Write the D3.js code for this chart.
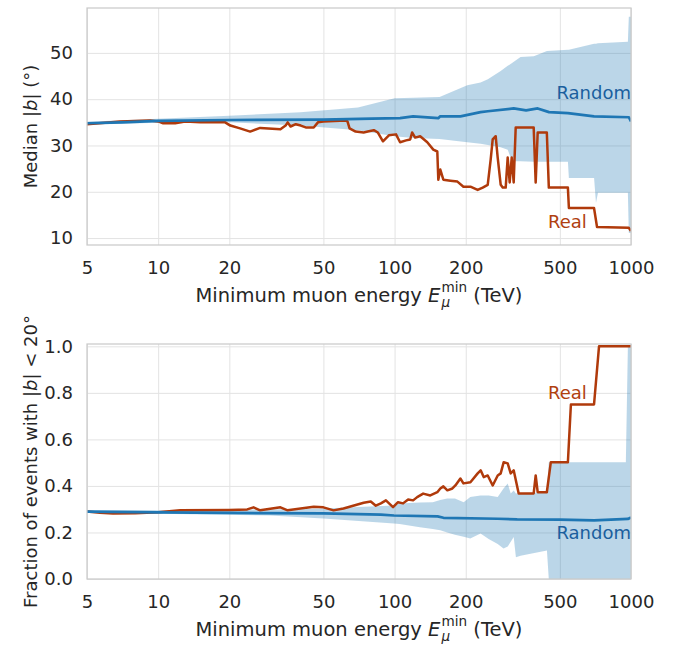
<!DOCTYPE html>
<html>
<head>
<meta charset="utf-8">
<script src="https://cdn.jsdelivr.net/npm/d3@7"></script>
<style>
  body { margin: 0; background: #fff; }
  text { font-family: "DejaVu Sans", sans-serif; }
</style>
</head>
<body>
<div id="root"></div>
<script>
// x axis: minimum muon energy (TeV)
var xTicks = [5, 10, 20, 50, 100, 200, 500, 1000];
var topYTicks = [10, 20, 30, 40, 50];
var botYTicks = [0, 0.2, 0.4, 0.6, 0.8, 1.0];

// top panel: median |b| in degrees, [E, value]
var realMedian = [
  [5, 34.6], [6.9, 35.2], [9.25, 35.4], [10, 35.2], [10.5, 34.8], [11.8, 34.8], [13, 35.2],
  [15.1, 35.0], [19.2, 35.0], [20.2, 34.3], [22.2, 33.7], [24.5, 33.0], [27, 33.8], [32.9, 33.5],
  [34.6, 34.3], [35.3, 35.0], [36.3, 34.1], [38.2, 34.6], [40.1, 34.3], [42.1, 33.9], [45.5, 33.9],
  [47.4, 35.0], [50, 35.2], [62, 35.4], [63.2, 35.2], [64.5, 33.7], [68.4, 33.0], [74, 32.8],
  [77, 33.0], [81.7, 33.3], [85, 32.8], [89.3, 30.9], [94.6, 32.2], [101.4, 32.4], [105.5, 30.7],
  [111.9, 31.1], [116.4, 31.3], [118.6, 32.8], [122.2, 31.7], [128.3, 32.0], [137.5, 30.7],
  [145.8, 29.1], [151.6, 28.7], [153.1, 22.6], [156.1, 24.8], [160.8, 22.6], [172.2, 22.4],
  [184.4, 22.2], [195.5, 21.1], [209.3, 21.1], [224.6, 20.4], [235.9, 20.9], [247.7, 21.5],
  [255, 27.0], [260, 31.3], [267.7, 32.0], [273, 27.4], [281.1, 21.5], [286.6, 20.9], [295.1, 20.9],
  [300.9, 27.4], [306.8, 22.0], [312.9, 27.4], [319, 22.0], [325.3, 33.9], [387.6, 33.9],
  [395.2, 22.0], [403, 32.8], [440.5, 32.8], [449.2, 20.9], [540.8, 20.9], [546.1, 16.5],
  [697.6, 16.5], [718.3, 12.4], [979, 12.2], [1000, 11.5]
];
var randomMedian = [
  [5, 34.8], [7, 35.0], [10, 35.3], [20, 35.5], [50, 35.6], [80, 35.8], [105.5, 35.9],
  [119.8, 36.3], [153, 35.9], [156, 36.3], [190, 36.3], [231, 37.2], [248, 37.4], [319, 38.0],
  [360, 37.6], [403, 38.0], [450, 37.2], [541, 37.0], [698, 36.3], [979, 36.1], [1000, 35.2]
];
// [E, low, high]
var randomMedianBand = [
  [5, 34.5, 35.1], [10, 34.9, 35.8], [20, 35.0, 36.4], [40, 34.3, 37.2], [70, 33.3, 38.2],
  [100, 32.0, 40.2], [120, 31.6, 40.3], [155, 31.4, 40.5], [203, 30.7, 43.0], [231, 30.4, 43.6],
  [248, 30.1, 44.3], [281, 29.6, 46.1], [301, 29.1, 47.2], [314, 26.6, 47.8], [341, 26.6, 49.1],
  [388, 26.5, 49.3], [441, 26.5, 50.4], [541, 26.5, 50.7], [546, 23.0, 50.7], [698, 23.0, 52.0],
  [711, 17.6, 52.0], [725, 19.8, 52.1], [970, 19.8, 52.4], [979, 11.1, 57.8], [1000, 11.1, 57.8]
];

// bottom panel: fraction of events with |b| < 20 deg
var realFrac = [
  [5, 0.290], [5.67, 0.285], [6.44, 0.282], [8, 0.283], [10, 0.287], [12.4, 0.295], [20, 0.297],
  [23.8, 0.299], [25.3, 0.308], [27, 0.295], [32.9, 0.308], [35.3, 0.295], [45.5, 0.311],
  [50, 0.308], [55.2, 0.295], [60.8, 0.303], [74, 0.328], [79.3, 0.333], [83.3, 0.315],
  [87.5, 0.325], [91.9, 0.338], [98.5, 0.309], [103.4, 0.330], [108.6, 0.325], [114.1, 0.342],
  [119.8, 0.338], [124.6, 0.352], [132.1, 0.367], [141.6, 0.359], [151.6, 0.373], [156.1, 0.389],
  [160.8, 0.398], [167.2, 0.381], [175.6, 0.389], [180.8, 0.402], [189.8, 0.432], [195.5, 0.411],
  [209.3, 0.416], [224.6, 0.454], [231.3, 0.467], [238.2, 0.438], [247.7, 0.445], [260, 0.402],
  [273, 0.445], [281.1, 0.454], [289.4, 0.502], [300.9, 0.497], [309.8, 0.454], [319, 0.467],
  [334.9, 0.367], [387.6, 0.368], [395.2, 0.445], [403, 0.373], [440.5, 0.373], [458, 0.502],
  [540.8, 0.502], [556.9, 0.75], [697.6, 0.75], [732.4, 1.0], [1000, 1.0]
];
var randomFrac = [
  [5, 0.290], [10, 0.286], [20, 0.284], [50, 0.282], [87.5, 0.277], [99.4, 0.273], [152, 0.269],
  [161, 0.263], [273, 0.259], [330, 0.256], [500, 0.255], [698, 0.252], [970, 0.258], [1000, 0.264]
];
var randomFracBand = [
  [5, 0.285, 0.295], [10, 0.280, 0.295], [29.8, 0.273, 0.299], [50, 0.260, 0.303],
  [99.4, 0.239, 0.316], [105, 0.236, 0.325], [128, 0.222, 0.329], [145, 0.215, 0.330],
  [156, 0.209, 0.340], [167, 0.200, 0.346], [180, 0.190, 0.346], [196, 0.182, 0.330],
  [209, 0.174, 0.352], [231, 0.196, 0.359], [250, 0.172, 0.359], [273, 0.150, 0.352],
  [289, 0.131, 0.389], [301, 0.140, 0.410], [310, 0.160, 0.367], [319, 0.180, 0.380],
  [326, 0.094, 0.367], [341, 0.100, 0.370], [441, 0.123, 0.372], [449, 0.0, 0.502],
  [951, 0.0, 0.502], [970, 0.0, 0.997], [1000, 0.0, 1.0]
];

var W = 684, H = 645;
var realColor = "#b03a0b", randomColor = "#1f77b4";
var bandColor = "rgba(31,119,180,0.3)";
var textColor = "#262626";

var svg = d3.select("#root").append("svg")
  .attr("width", W)
  .attr("height", H);

var x = d3.scaleLog().domain([5, 1000]).range([87, 631]);

function panel(opts) {
  var y = d3.scaleLinear().domain(opts.yDomain).range([opts.bottom, opts.top]);
  var g = svg.append("g");

  // gridlines + tick labels
  g.append("g")
    .attr("transform", "translate(0," + opts.bottom + ")")
    .call(d3.axisBottom(x).tickValues(xTicks).tickFormat(d3.format("d"))
      .tickSize(-(opts.bottom - opts.top)).tickPadding(16))
    .call(function(s) { s.select(".domain").remove(); });

  g.append("g")
    .attr("transform", "translate(" + x.range()[0] + ",0)")
    .call(d3.axisLeft(y).tickValues(opts.yTicks).tickFormat(opts.yFormat)
      .tickSize(-(x.range()[1] - x.range()[0])).tickPadding(14))
    .call(function(s) { s.select(".domain").remove(); });

  g.selectAll(".tick line").attr("stroke", "#e3e3e3").attr("stroke-width", 1);
  g.selectAll(".tick text")
    .attr("fill", textColor)
    .attr("font-size", 18)
    .attr("font-family", "DejaVu Sans");

  var clipId = "clip" + opts.top;
  g.append("clipPath").attr("id", clipId)
    .append("rect")
      .attr("x", x.range()[0]).attr("y", opts.top)
      .attr("width", x.range()[1] - x.range()[0])
      .attr("height", opts.bottom - opts.top);

  var plot = g.append("g").attr("clip-path", "url(#" + clipId + ")");

  var band = d3.area()
    .x(function(d) { return x(d[0]); })
    .y0(function(d) { return y(d[1]); })
    .y1(function(d) { return y(d[2]); });

  var line = d3.line()
    .x(function(d) { return x(d[0]); })
    .y(function(d) { return y(d[1]); });

  plot.append("path")
    .attr("d", band(opts.band))
    .attr("fill", bandColor);

  plot.append("path")
    .attr("d", line(opts.real))
    .attr("fill", "none")
    .attr("stroke", realColor)
    .attr("stroke-width", 2.5)
    .attr("stroke-linejoin", "round");

  plot.append("path")
    .attr("d", line(opts.random))
    .attr("fill", "none")
    .attr("stroke", randomColor)
    .attr("stroke-width", 2.7)
    .attr("stroke-linejoin", "round");

  // frame
  g.append("rect")
    .attr("x", x.range()[0]).attr("y", opts.top)
    .attr("width", x.range()[1] - x.range()[0])
    .attr("height", opts.bottom - opts.top)
    .attr("fill", "none")
    .attr("stroke", "#cbcbcb")
    .attr("stroke-width", 1.25);

  // series labels
  g.append("text")
    .attr("x", x(opts.realLabel[0])).attr("y", y(opts.realLabel[1]))
    .attr("text-anchor", "end")
    .attr("font-size", 18)
    .attr("fill", "#b0400f")
    .text("Real");

  g.append("text")
    .attr("x", x(opts.randomLabel[0])).attr("y", y(opts.randomLabel[1]))
    .attr("text-anchor", "end")
    .attr("font-size", 18)
    .attr("fill", "#1a5f9e")
    .text("Random");

  // x label, E with stacked mu subscript and "min" superscript
  var xl = g.append("text")
    .attr("x", (x.range()[0] + x.range()[1]) / 2)
    .attr("y", opts.bottom + 57)
    .attr("text-anchor", "middle")
    .attr("font-size", 19.5)
    .attr("fill", textColor);
  xl.append("tspan").text("Minimum muon energy ");
  xl.append("tspan").attr("font-style", "italic").text("E");
  xl.append("tspan").attr("font-style", "italic").attr("font-size", 13.6).attr("dx", 1).attr("dy", 4.5).text("\u03bc");
  xl.append("tspan").attr("font-size", 13.6).attr("dx", -8.6).attr("dy", -15).text("min");
  xl.append("tspan").attr("dy", 10.5).text(" (TeV)");

  // y label
  var yl = g.append("text")
    .attr("transform", "translate(37," + (opts.top + opts.bottom) / 2 + ") rotate(-90)")
    .attr("text-anchor", "middle")
    .attr("font-size", 18)
    .attr("fill", textColor);
  yl.append("tspan").text(opts.yLabel[0]);
  yl.append("tspan").attr("font-style", "italic").text("b");
  yl.append("tspan").text(opts.yLabel[1]);
}

panel({
  top: 8, bottom: 245,
  yDomain: [8.5, 59.7], yTicks: topYTicks, yFormat: d3.format("d"),
  band: randomMedianBand, real: realMedian, random: randomMedian,
  realLabel: [650, 12.2], randomLabel: [1000, 40.0],
  yLabel: ["Median |", "| (\u00b0)"]
});

panel({
  top: 344, bottom: 579,
  yDomain: [0, 1.01], yTicks: botYTicks, yFormat: d3.format(".1f"),
  band: randomFracBand, real: realFrac, random: randomFrac,
  realLabel: [650, 0.772], randomLabel: [1000, 0.174],
  yLabel: ["Fraction of events with |", "| < 20\u00b0"]
});
</script>
</body>
</html>
